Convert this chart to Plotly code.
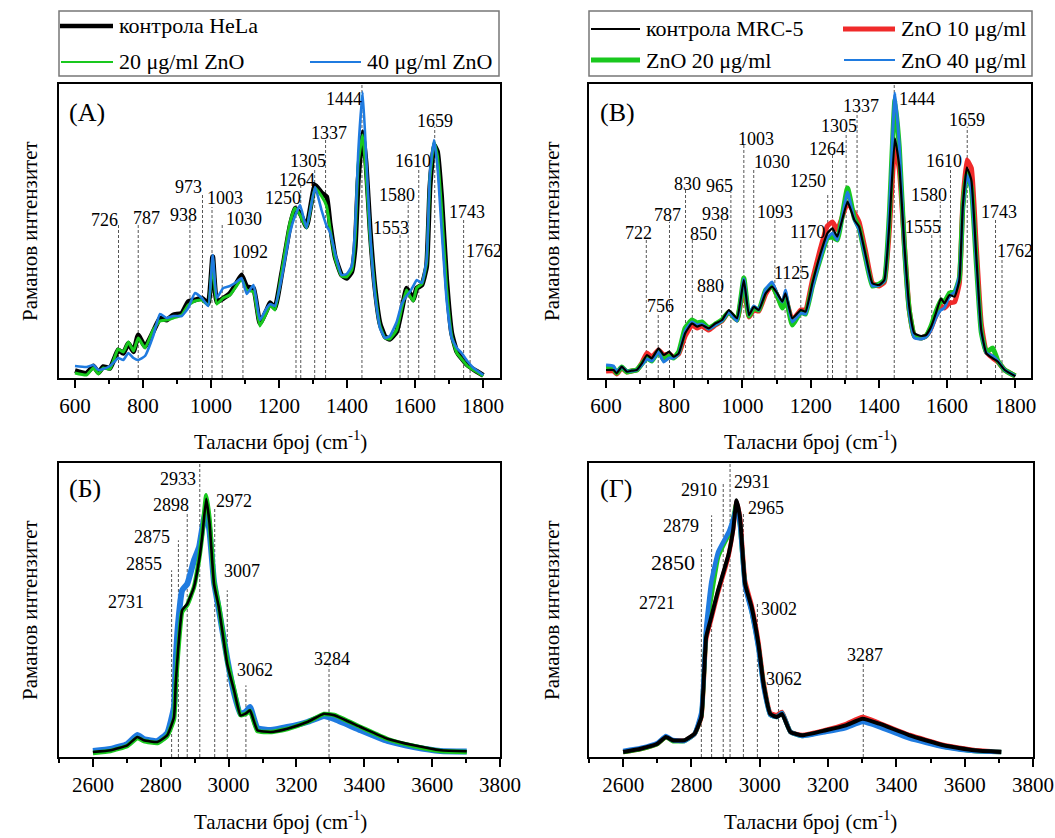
import plotly.graph_objects as go

W, H = 1055, 838

# ---------------- DATA ----------------
# Panel (A): HeLa, 600-1800 cm-1
wn_a = [600, 634, 654, 669, 683, 703, 718, 727, 742, 757, 772, 786, 806, 830, 850, 870, 889, 914, 933, 953,
        973, 992, 1005, 1017, 1036, 1056, 1075, 1090, 1105, 1125, 1144, 1164, 1174, 1188, 1208, 1232, 1247,
        1262, 1281, 1306, 1325, 1340, 1350, 1365, 1384, 1399, 1414, 1424, 1433, 1446, 1456, 1468, 1482, 1497,
        1512, 1526, 1546, 1561, 1575, 1585, 1595, 1605, 1620, 1634, 1644, 1656, 1666, 1678, 1693, 1708, 1723,
        1737, 1754, 1772, 1801]
hela_ctrl = [7.3, 4.7, 12, 5.3, 11.3, 9.7, 21.3, 28, 24.7, 34.7, 26.3, 43, 31.3, 46.3, 59.7, 58, 63, 64.7, 76.3, 78,
             79.7, 74.7, 121.3, 76.3, 79.7, 84.7, 94.7, 103, 91.3, 89.7, 54.7, 68, 75.3, 69.7, 104.7, 151.3, 169.7,
             164.7, 151.3, 193, 185.3, 181.3, 154.7, 121.3, 103, 99.7, 106.3, 131.3, 198, 246.3, 214.7, 148, 91.3, 54.7,
             41.3, 38.7, 46.3, 68, 89.7, 84.7, 78, 89.7, 93, 111.3, 191.3, 233, 226.3, 181.3, 98, 44.7, 26.3,
             19.7, 13, 8.7, 2.7]
hela_zn20 = [5, 3, 10, 4, 10, 9, 22, 29, 26, 36, 27, 40, 30, 48, 57, 58, 60, 63, 73, 77,
             78, 73, 118, 74, 80, 83, 92, 99, 88, 86, 52, 66, 73, 68, 106, 155, 170,
             163, 150, 190, 182, 172, 150, 120, 102, 101, 108, 140, 215, 243, 205, 140, 88, 52,
             40, 39, 48, 70, 88, 82, 77, 90, 94, 115, 200, 236, 222, 170, 90, 42, 25,
             19, 12, 8, 2]
hela_zn40 = [12, 11, 13, 8, 9, 12, 17, 20, 18, 25, 20, 18, 22, 42, 64, 60, 62, 62, 70, 85,
             80, 72, 123, 80, 90, 92, 96, 100, 84, 93, 58, 70, 74, 72, 100, 145, 162,
             173, 150, 191, 168, 152, 146, 125, 103, 104, 112, 150, 225, 286, 225, 145, 84, 50,
             40, 42, 56, 74, 82, 86, 92, 98, 95, 118, 205, 238, 212, 150, 78, 40, 30,
             25, 17, 10, 3]

# Panel (B): MRC-5, 600-1800 cm-1
wn_b = [600, 622, 631, 646, 661, 675, 690, 705, 720, 734, 754, 769, 785, 798, 813, 832, 852, 867, 881, 901,
        921, 940, 960, 984, 1004, 1019, 1033, 1048, 1068, 1087, 1102, 1117, 1126, 1146, 1171, 1185, 1205,
        1229, 1249, 1264, 1278, 1308, 1328, 1342, 1362, 1381, 1401, 1416, 1430, 1447, 1460, 1475, 1489, 1504,
        1524, 1538, 1553, 1567, 1582, 1592, 1607, 1622, 1636, 1646, 1658, 1671, 1685, 1700, 1715, 1734, 1749,
        1769, 1800]
mrc_ctrl = [8, 8, 4.7, 11.3, 6.3, 7.3, 8, 14.7, 23, 19.7, 29.7, 23, 26.3, 21.3, 24.7, 44.7, 54.7, 51.3, 53, 49.7,
            54.7, 58, 68, 59.7, 98, 63, 71.3, 68, 84.7, 91.3, 84.7, 76.3, 84.7, 59.7, 68, 66.3, 94.7,
            124.7, 144.7, 149.7, 141.3, 176.3, 158, 151.3, 121.3, 94.7, 93, 98, 150, 239.7, 211.3, 131.3, 71.3, 44.7,
            42, 43, 51.3, 64.7, 79.7, 74.7, 83, 81.3, 98, 171.3, 210.7, 198, 124.7, 48, 24.7, 19.7, 16.3,
            8, 1.7]
mrc_zn10 = [7, 7, 4, 10, 6, 7, 8, 15, 25, 21, 28, 23, 24, 21, 24, 42, 53, 50, 52, 48,
            53, 57, 66, 58, 92, 61, 68, 67, 84, 93, 82, 72, 80, 58, 68, 68, 98,
            130, 152, 156, 148, 175, 165, 156, 125, 95, 92, 96, 145, 232, 208, 132, 68, 42,
            40, 42, 50, 62, 72, 70, 75, 76, 95, 175, 218, 210, 135, 55, 26, 20, 16,
            8, 2]
mrc_zn20 = [10, 10, 5, 11, 6, 7, 8, 14, 20, 17, 27, 18, 22, 20, 26, 50, 58, 55, 56, 50,
            54, 58, 66, 58, 100, 62, 70, 68, 88, 92, 82, 70, 82, 53, 66, 64, 92,
            120, 140, 141, 138, 190, 160, 150, 118, 92, 94, 98, 160, 278, 230, 130, 68, 42,
            40, 42, 52, 66, 78, 76, 85, 86, 100, 170, 205, 190, 118, 46, 26, 30, 17,
            8, 2]
mrc_zn40 = [13, 12, 6, 11, 7, 7, 8, 13, 19, 17, 26, 16, 20, 20, 24, 47, 56, 53, 54, 49,
            53, 57, 66, 57, 99, 63, 72, 68, 89, 96, 84, 76, 88, 56, 65, 64, 90,
            120, 140, 145, 138, 186, 158, 148, 118, 92, 93, 97, 162, 285, 232, 128, 66, 40,
            39, 41, 48, 60, 68, 70, 82, 86, 102, 168, 203, 188, 118, 46, 25, 22, 17,
            8, 2]

# Panel (Б): HeLa, 2600-3700 cm-1
wn_c = [2600, 2652, 2701, 2731, 2750, 2790, 2819, 2839, 2844, 2851, 2863, 2878, 2898, 2913, 2922, 2934, 2944,
        2957, 2971, 2996, 3016, 3035, 3050, 3063, 3085, 3124, 3173, 3232, 3281, 3311, 3389, 3468, 3546, 3625, 3702]
hela_hw_ctrl = [5, 6.7, 11.7, 20, 16.7, 15, 21.7, 40, 73, 106.7, 146.7, 153, 170, 196.7, 220, 258.3, 233,
                173, 150, 93, 66.7, 41.7, 43.3, 46.7, 26.7, 25, 28.3, 35, 43.3, 41.7, 30, 18.3, 11.7, 6.7, 5.7]
hela_hw_zn20 = [4, 6, 11, 19, 16, 14, 21, 38, 70, 104, 145, 152, 170, 198, 222, 261.7, 237,
                176, 152, 96, 68, 42, 43, 46, 26, 25, 28, 35, 43, 42, 30, 18, 11, 6, 5]
hela_hw_zn40 = [6, 8, 13, 22, 18, 16, 24, 50, 95, 133, 166.7, 173, 196.7, 210, 228, 248, 225,
                175, 148, 98, 64, 43, 45, 50, 29, 27, 30, 35, 41, 38, 26.7, 16, 10, 6, 5.5]

# Panel (Г): MRC-5, 2600-3700 cm-1
wn_d = [2600, 2651, 2700, 2725, 2745, 2779, 2809, 2829, 2843, 2858, 2878, 2898, 2909, 2922, 2932, 2942, 2957,
        2976, 2996, 3011, 3031, 3050, 3065, 3090, 3124, 3193, 3252, 3301, 3350, 3439, 3538, 3627, 3707]
mrc_hw_ctrl = [5, 8.3, 13.3, 20, 16.7, 16.7, 23.3, 40, 120, 140, 166.7, 190, 203, 226.7, 256.7, 240, 173,
               150, 113, 73, 43, 40, 43, 25, 21.7, 26.7, 31.7, 38.3, 33.3, 21.7, 11.7, 6.7, 5]
mrc_hw_zn10 = [5, 8, 13, 20, 16.5, 16.5, 23, 40, 118, 138, 165, 188, 202, 228, 255, 240, 176,
               152, 115, 75, 44, 42, 45, 25, 22, 27, 33, 40, 34, 22, 12, 7, 5]
mrc_hw_zn20 = [5, 8, 13, 20, 16, 16, 23, 42, 125, 160, 200, 215, 222, 238, 254, 232, 172,
               146, 110, 72, 42, 40, 44, 25, 21, 26, 30, 36, 31, 19.5, 10.5, 6, 5]
mrc_hw_zn40 = [6, 9, 14, 21, 17, 16, 23, 45, 130, 175, 205, 218, 225, 238, 250, 232, 170,
               145, 108, 70, 42, 40, 44, 25, 21, 25, 29, 35, 30, 18.3, 10, 6, 5]

# Peak labels (text) and the wavenumber where each dashed marker is drawn
peaks_a = ["726", "787", "938", "973", "1003", "1030", "1092", "1250", "1264", "1305", "1337", "1444",
           "1553", "1580", "1610", "1659", "1743", "1762"]
peak_x_a = [728, 786, 938, 975, 1003, 1033, 1094, 1250, 1264, 1305, 1337, 1444, 1556, 1580, 1611, 1658, 1743, 1762]
peaks_b = ["722", "756", "787", "830", "850", "880", "938", "965", "1003", "1030", "1093", "1125", "1170",
           "1250", "1264", "1305", "1337", "1444", "1555", "1580", "1610", "1659", "1743", "1762"]
peak_x_b = [718, 753, 786, 833, 853, 882, 939, 966, 1004, 1033, 1095, 1125, 1171, 1250, 1264, 1304, 1336, 1445,
            1555, 1580, 1610, 1659, 1742, 1761]
peaks_c = ["2731", "2855", "2875", "2898", "2933", "2972", "3007", "3062", "3284"]
peak_x_c = [None, 2832, 2852, 2878, 2915, 2959, 2996, 3051, 3296]
peaks_d = ["2721", "2850", "2879", "2910", "2931", "2965", "3002", "3062", "3287"]
peak_x_d = [None, 2829, 2859, 2893, 2913, 2952, 2993, 3055, 3303]

# ---------------- LAYOUT (label placement: line top, text x, text y) ----------------
lab_a_top = [153, 154.7, 158, 184.7, 171, 154.7, 121, 173, 193, 209.7, 238.7, 294, 144.7, 176.3, 210.7, 251.3, 159.7, 121.3]
lab_a_tx = [688, 809, 920, 934, 1040, 1096, 1115, 1213, 1253, 1284, 1348, 1390, 1530, 1548, 1593, 1659, 1754, 1802]
lab_a_ty = [158, 159.7, 163, 190.7, 179.7, 158.7, 126.3, 179.7, 198, 217, 244.7, 279, 150.3, 183, 217, 257.3, 166.3, 127.3]

lab_b_top = [138.7, 64.7, 156.3, 188, 138, 84.7, 158, 186.3, 233, 209.7, 159.7, 98.7, 139.7, 184.7, 223, 245.3,
             266.3, 294, 144.7, 176.3, 210.7, 251.3, 159.7, 121.3]
lab_b_tx = [696, 760, 780, 840, 885, 907, 920, 934, 1039, 1087, 1095, 1145, 1191, 1191, 1247, 1282, 1347, 1513,
            1529, 1547, 1590, 1657, 1753, 1799]
lab_b_ty = [144.7, 72, 163, 194, 144, 92, 164, 192.3, 238.7, 216.3, 166.3, 104.7, 146.3, 197.3, 228.7, 252,
            272.3, 279, 151.3, 183, 217.3, 258, 166.3, 127.3]

lab_c_top = [None, 186.7, 216.7, 245, 294, 250, 166.7, 71.7, 91.7]
lab_c_tx = [2698, 2751, 2775, 2829, 2850, 3016, 3039, 3079, 3304]
lab_c_ty = [155, 192.7, 220, 251.7, 278.3, 256, 186, 86.7, 98.3]

lab_d_top = [None, 210, 241.7, 273.3, 294, 243.3, 153.3, 71.7, 93.3]
lab_d_tx = [2700, 2747, 2770, 2823, 2976, 3019, 3055, 3070, 3308]
lab_d_ty = [154.3, 195, 230.7, 267.3, 275, 249.3, 147.7, 78.3, 101.7]
lab_d_size = [18, 22, 18, 18, 18, 18, 18, 18, 18]

BLACK = "#000000"
GREEN = "#19c81e"
BLUE = "#1f7be0"
RED = "#f02a2a"
FONT = "Liberation Serif"


def px(x):
    return x / W


def py(y):
    return 1 - y / H


fig = go.Figure()


def add(x, y, color, width, ax):
    fig.add_trace(go.Scatter(x=x, y=y, mode="lines", xaxis="x" + ax, yaxis="y" + ax,
                             line=dict(color=color, width=width, shape="spline", smoothing=0.4),
                             hoverinfo="skip", showlegend=False))


# Panel A
add(wn_a, hela_ctrl, BLACK, 5, "")
add(wn_a, hela_zn20, GREEN, 3, "")
add(wn_a, hela_zn40, BLUE, 2.6, "")
# Panel B
add(wn_b, mrc_zn10, RED, 5, "2")
add(wn_b, mrc_zn20, GREEN, 5, "2")
add(wn_b, mrc_zn40, BLUE, 3, "2")
add(wn_b, mrc_ctrl, BLACK, 2.2, "2")
# Panel Б
add(wn_c, hela_hw_zn40, BLUE, 6, "3")
add(wn_c, hela_hw_zn20, GREEN, 4.5, "3")
add(wn_c, hela_hw_ctrl, BLACK, 2.6, "3")
# Panel Г
add(wn_d, mrc_hw_zn10, RED, 4.5, "4")
add(wn_d, mrc_hw_zn20, GREEN, 4.5, "4")
add(wn_d, mrc_hw_zn40, BLUE, 4.5, "4")
add(wn_d, mrc_hw_ctrl, BLACK, 4, "4")

shapes = []
annotations = []


def peak_marks(texts, xs, tops, tx, ty, ax, sizes=None):
    xr = "x" + ax
    yr = "y" + ax
    for i, t in enumerate(texts):
        if xs[i] is not None:
            shapes.append(dict(type="line", xref=xr, yref=yr, x0=xs[i], x1=xs[i], y0=0, y1=tops[i],
                               layer="below", line=dict(color="#555555", width=1, dash="3px,2px")))
        annotations.append(dict(text=t, x=tx[i], y=ty[i], xref=xr, yref=yr, showarrow=False,
                                xanchor="center", yanchor="middle",
                                font=dict(family=FONT, size=(sizes[i] if sizes else 18), color="black")))


peak_marks(peaks_a, peak_x_a, lab_a_top, lab_a_tx, lab_a_ty, "")
peak_marks(peaks_b, peak_x_b, lab_b_top, lab_b_tx, lab_b_ty, "2")
peak_marks(peaks_c, peak_x_c, lab_c_top, lab_c_tx, lab_c_ty, "3")
peak_marks(peaks_d, peak_x_d, lab_d_top, lab_d_tx, lab_d_ty, "4", lab_d_size)

# panel letters
for txt, x, y in [("(A)", 87, 112), ("(B)", 617, 112), ("(Б)", 85, 489), ("(Г)", 616, 489)]:
    annotations.append(dict(text=txt, x=px(x), y=py(y), xref="paper", yref="paper", showarrow=False,
                            xanchor="center", yanchor="middle", font=dict(family=FONT, size=26, color="black")))

# axis titles
xt = "Таласни број (cm<sup>-1</sup>)"
for x, y in [(280, 440), (810, 440), (280, 820), (810, 820)]:
    annotations.append(dict(text=xt, x=px(x), y=py(y), xref="paper", yref="paper", showarrow=False,
                            xanchor="center", yanchor="middle", font=dict(family=FONT, size=21, color="black")))
yt = "Раманов интензитет"
for x, y in [(30, 231), (552, 231), (30, 610), (552, 610)]:
    annotations.append(dict(text=yt, x=px(x), y=py(y), xref="paper", yref="paper", showarrow=False,
                            textangle=-90, xanchor="center", yanchor="middle",
                            font=dict(family=FONT, size=21, color="black")))

# legends (drawn manually)
for x0, x1 in [(59, 499), (589, 1032)]:
    shapes.append(dict(type="rect", xref="paper", yref="paper", x0=px(x0), x1=px(x1), y0=py(76), y1=py(11),
                       line=dict(color="#777777", width=1.5), fillcolor="rgba(0,0,0,0)"))

legend_items = [
    (60, 113, 26, BLACK, 4.5, "контрола HeLa", 22),
    (61, 113, 62, GREEN, 2, "20 μg/ml ZnO", 22),
    (310, 361, 62, BLUE, 2, "40 μg/ml ZnO", 22),
    (591, 640, 29, BLACK, 2, "контрола MRC-5", 22),
    (843, 895, 29, RED, 5, "ZnO 10 μg/ml", 22),
    (591, 640, 60, GREEN, 5, "ZnO 20 μg/ml", 22),
    (844, 895, 60, BLUE, 2, "ZnO 40 μg/ml", 22),
]
for x0, x1, y, col, w, txt, fs in legend_items:
    shapes.append(dict(type="line", xref="paper", yref="paper", x0=px(x0), x1=px(x1), y0=py(y), y1=py(y),
                       line=dict(color=col, width=w)))
    annotations.append(dict(text=txt, x=px(x1 + 4), y=py(y), xref="paper", yref="paper", showarrow=False,
                            xanchor="left", yanchor="middle", font=dict(family=FONT, size=fs, color="black")))

tickfont = dict(family=FONT, size=21, color="black")


def xaxis(domain, rng, tick0, anchor):
    return dict(domain=domain, range=rng, anchor=anchor, showgrid=False, zeroline=False, automargin=False,
                showline=True, mirror=True, linecolor="black", linewidth=2,
                ticks="outside", ticklen=8, tickwidth=1.5, tickcolor="black", tick0=tick0, dtick=200,
                tickfont=tickfont,
                minor=dict(ticks="outside", ticklen=4, tickwidth=1.5, tickcolor="black", dtick=100, tick0=tick0))


def yaxis(domain, anchor):
    return dict(domain=domain, range=[0, 294], anchor=anchor, showgrid=False, zeroline=False, automargin=False,
                showline=True, mirror=True, linecolor="black", linewidth=2, ticks="",
                showticklabels=False)


fig.update_layout(
    width=W, height=H, autosize=False, margin=dict(l=0, r=0, t=0, b=0, autoexpand=False),
    paper_bgcolor="white", plot_bgcolor="white", showlegend=False,
    xaxis=xaxis([px(59), px(500)], [553, 1850], 600, "y"),
    yaxis=yaxis([py(378), py(84)], "x"),
    xaxis2=xaxis([px(589), px(1031)], [550, 1846], 600, "y2"),
    yaxis2=yaxis([py(378), py(84)], "x2"),
    xaxis3=xaxis([px(59), px(500)], [2500, 3800], 2600, "y3"),
    yaxis3=yaxis([py(757), py(463)], "x3"),
    xaxis4=xaxis([px(589), px(1033)], [2500, 3800], 2600, "y4"),
    yaxis4=yaxis([py(757), py(463)], "x4"),
    shapes=shapes, annotations=annotations,
)

page_fix = (
    "document.documentElement.style.overflow='hidden';"
    "document.body.style.margin='0';document.body.style.padding='0';document.body.style.overflow='hidden';"
)

fig.write_html("out.html", config={"displayModeBar": False, "responsive": False}, post_script=page_fix)
